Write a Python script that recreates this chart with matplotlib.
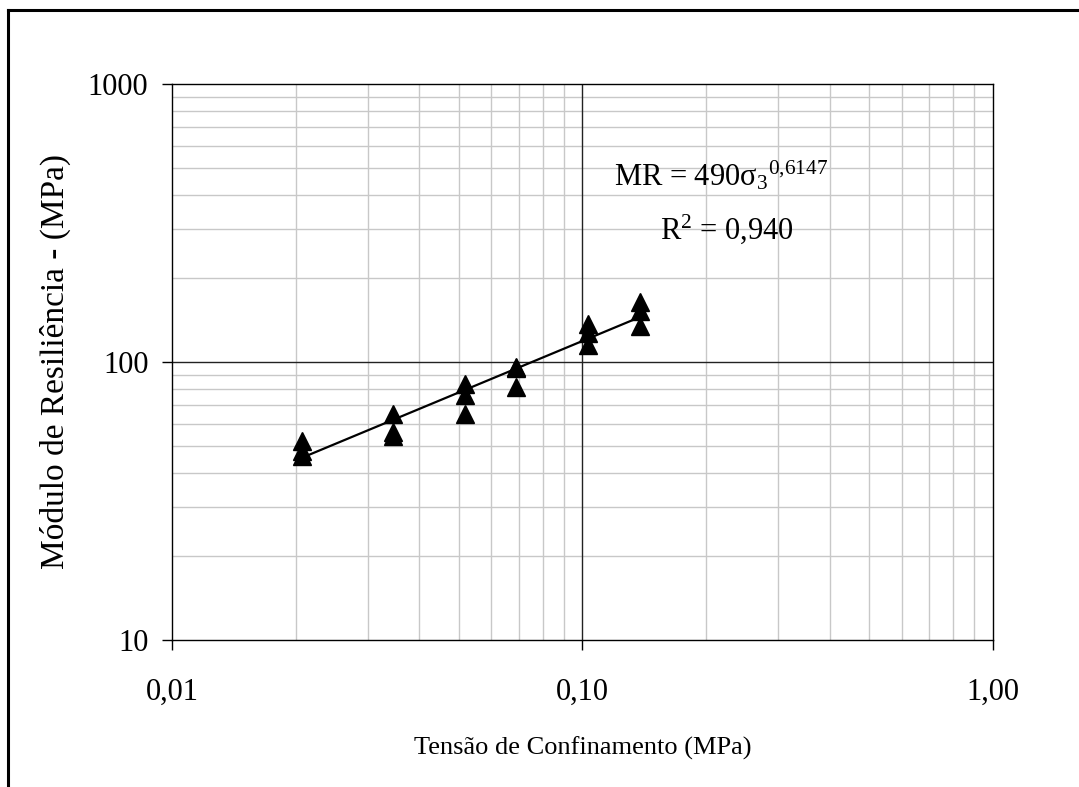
import matplotlib.pyplot as plt
from matplotlib.ticker import FixedLocator, FixedFormatter, NullLocator
from matplotlib.lines import Line2D

plt.rcParams["font.family"] = ["Liberation Serif", "DejaVu Serif"]
plt.rcParams["mathtext.fontset"] = "custom"
plt.rcParams["mathtext.rm"] = "Liberation Serif"
plt.rcParams["mathtext.it"] = "Liberation Serif:italic"

# confining stress (MPa) and resilient modulus (MPa)
sigma3 = [0.0207, 0.0207, 0.0207,
          0.0345, 0.0345, 0.0345,
          0.0517, 0.0517, 0.0517,
          0.069, 0.069, 0.069,
          0.1034, 0.1034, 0.1034,
          0.1379, 0.1379, 0.1379]
mr = [52, 48, 46,
      65, 56, 54,
      83, 76, 65,
      96, 95, 81,
      137, 127, 115,
      164, 152, 135]

# power trendline end points
trend_x = [0.0207, 0.1379]
trend_y = [45.2, 145.0]

x_ticks = [0.01, 0.1, 1.0]
x_labels = ["0,01", "0,10", "1,00"]
y_ticks = [10, 100, 1000]
y_labels = ["10", "100", "1000"]

fig = plt.figure(figsize=(10.79, 7.87), dpi=100)
ax = fig.add_axes([0.1594, 0.1868, 0.7609, 0.7065])

ax.set_xscale("log")
ax.set_yscale("log")
ax.set_xlim(0.01, 1.0)
ax.set_ylim(10, 1000)

# minor grid (gray) and major grid (dark)
minors_x = [m * d for d in (0.01, 0.1) for m in range(2, 10)]
minors_y = [m * d for d in (10, 100) for m in range(2, 10)]
for v in minors_x:
    ax.axvline(v, color="#c8c8c8", lw=1.0, zorder=0)
for v in minors_y:
    ax.axhline(v, color="#c8c8c8", lw=1.0, zorder=0)
ax.axvline(0.1, color="#222222", lw=1.0, zorder=1)
ax.axhline(100, color="#222222", lw=1.0, zorder=1)

ax.plot(trend_x, trend_y, color="black", lw=1.6, zorder=2)
ax.plot(sigma3, mr, linestyle="none", marker="^", markersize=13,
        color="black", zorder=3)

ax.xaxis.set_major_locator(FixedLocator(x_ticks))
ax.xaxis.set_major_formatter(FixedFormatter(x_labels))
ax.yaxis.set_major_locator(FixedLocator(y_ticks))
ax.yaxis.set_major_formatter(FixedFormatter(y_labels))
ax.xaxis.set_minor_locator(NullLocator())
ax.yaxis.set_minor_locator(NullLocator())
ax.tick_params(axis="both", direction="out", length=7, width=1,
               labelsize=22, color="black")
ax.tick_params(axis="x", pad=20)
ax.tick_params(axis="y", pad=10)
for s in ax.spines.values():
    s.set_linewidth(1.0)
    s.set_color("black")

ax.set_xlabel("Tensão de Confinamento (MPa)", fontsize=19, labelpad=22)
ax.set_ylabel("Módulo de Resiliência - (MPa)", fontsize=24, labelpad=12)

ax.text(0.538, 0.818, "MR = 490σ$_{3}$$^{0{,}6147}$",
        transform=ax.transAxes, fontsize=22, ha="left", va="baseline")
ax.text(0.594, 0.722, "R$^{2}$ = 0,940",
        transform=ax.transAxes, fontsize=22, ha="left", va="baseline")

# outer chart border
fig.add_artist(Line2D([8 / 1079, 8 / 1079], [0, 1 - 10 / 787],
                      transform=fig.transFigure, color="black", lw=2.2))
fig.add_artist(Line2D([8 / 1079, 1], [1 - 10 / 787, 1 - 10 / 787],
                      transform=fig.transFigure, color="black", lw=2.2))

fig.savefig("out.png", dpi=100)
